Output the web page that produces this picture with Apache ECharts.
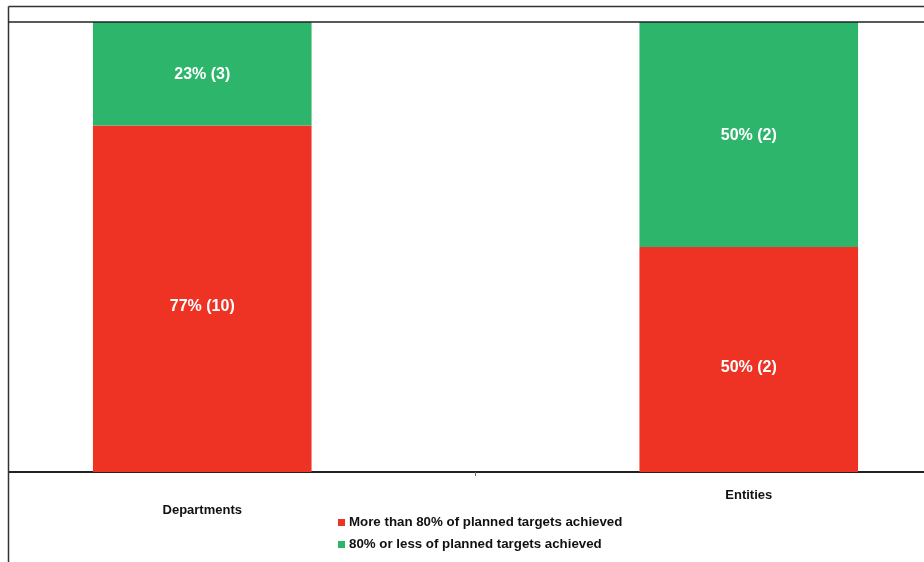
<!DOCTYPE html>
<html>
<head>
<meta charset="utf-8">
<script src="https://cdn.jsdelivr.net/npm/echarts@6/dist/echarts.min.js"></script>
<style>html,body{margin:0;padding:0;background:#fff;overflow:hidden;width:924px;height:562px;position:relative;}#c{position:absolute;left:-71px;top:0;width:1093px;height:562px;}</style>
</head>
<body>
<div id="c"></div>
<script>
const categories = ['Departments', 'Entities'];
const seriesNames = ['More than 80% of planned targets achieved', '80% or less of planned targets achieved'];
const abovePct = [77, 50];
const aboveCount = [10, 2];
const belowPct = [23, 50];
const belowCount = [3, 2];
const yTicks = [0, 100];

const FONT = "'Liberation Sans', Arial, sans-serif";
const OX = 71; // chart canvas is shifted left by this many pixels
const chart = echarts.init(document.getElementById('c'), null, {renderer: 'canvas'});

function mk(pcts, counts) {
  return pcts.map((v, i) => ({value: v, count: counts[i]}));
}

const labelBase = {show: true, position: 'inside', color: '#fff', fontFamily: FONT, fontSize: 16, fontWeight: 'bold',
  formatter: p => p.value + '% (' + p.data.count + ')'};

const option = {
  animation: false,
  backgroundColor: '#fff',
  grid: {left: 0, right: 0, top: 22, bottom: 90, containLabel: false},
  xAxis: {
    type: 'category',
    data: [
      {value: categories[0], textStyle: {padding: [15, 0, 0, 0]}},
      {value: categories[1]}
    ],
    axisLine: {show: true, lineStyle: {color: '#222', width: 2}},
    axisTick: {show: true, length: 4, lineStyle: {color: '#666', width: 1}},
    axisLabel: {margin: 17, color: '#111', fontFamily: FONT, fontSize: 13, fontWeight: 'bold'}
  },
  yAxis: {
    type: 'value', min: yTicks[0], max: yTicks[1], interval: 100,
    show: false
  },
  legend: {
    orient: 'vertical', left: 333 + OX, top: 511,
    itemWidth: 7, itemHeight: 7, itemGap: 9,
    icon: 'rect',
    textStyle: {fontFamily: FONT, fontSize: 13.3, fontWeight: 'bold', color: '#111', padding: [0, 0, 0, -1]},
    data: seriesNames
  },
  series: [
    {
      name: seriesNames[0], type: 'bar', stack: 's', barWidth: '40%',
      itemStyle: {color: '#ee3224'},
      label: Object.assign({}, labelBase, {offset: [0, 8]}),
      data: mk(abovePct, aboveCount)
    },
    {
      name: seriesNames[1], type: 'bar', stack: 's', barWidth: '40%',
      itemStyle: {color: '#2db56b'},
      label: Object.assign({}, labelBase, {offset: [0, 1]}),
      data: mk(belowPct, belowCount)
    }
  ],
  graphic: [
    {type: 'rect', z: 100, shape: {x: 0, y: 0, width: 8 + OX, height: 562}, style: {fill: '#fff'}},
    {type: 'line', z: 101, shape: {x1: 8.5 + OX, y1: 6.5, x2: 1093, y2: 6.5}, style: {stroke: '#333', lineWidth: 1.5}},
    {type: 'line', z: 101, shape: {x1: 8.5 + OX, y1: 6.5, x2: 8.5 + OX, y2: 562}, style: {stroke: '#333', lineWidth: 1.5}},
    {type: 'line', z: 101, shape: {x1: 8.5 + OX, y1: 22, x2: 1093, y2: 22}, style: {stroke: '#222', lineWidth: 1.5}}
  ]
};
chart.setOption(option);
</script>
</body>
</html>
